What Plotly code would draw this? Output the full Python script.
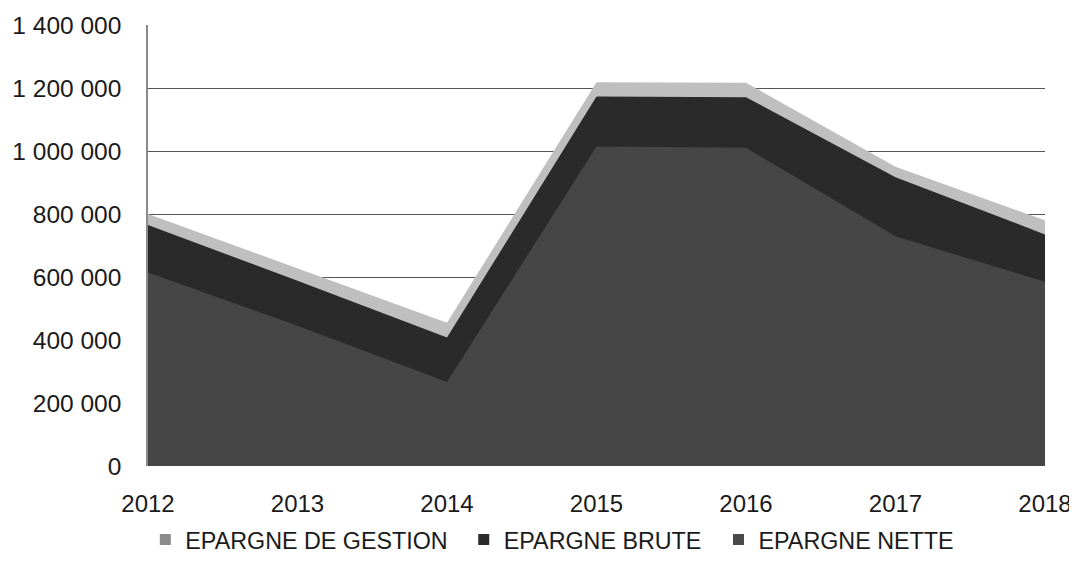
import plotly.graph_objects as go

years = [2012, 2013, 2014, 2015, 2016, 2017, 2018]
epargne_gestion = [800000, 627000, 455000, 1218000, 1217000, 950000, 780000]
epargne_brute = [765000, 588000, 408000, 1173000, 1171000, 917000, 735000]
epargne_nette = [614000, 445000, 267000, 1014000, 1010000, 729000, 585000]
y_ticks = [0, 200000, 400000, 600000, 800000, 1000000, 1200000, 1400000]

names = ["EPARGNE DE GESTION", "EPARGNE BRUTE", "EPARGNE NETTE"]
fill_colors = ["#bfbfbf", "#2a2a2a", "#464646"]
legend_colors = ["#8c8c8c", "#2b2b2b", "#4a4a4a"]
series = [epargne_gestion, epargne_brute, epargne_nette]
legend_ids = ["legend", "legend2", "legend3"]
legend_x = [-0.003, 0.352, 0.636]

FONT = "Liberation Sans"
TXT = "#1a1a1a"

fig = go.Figure()
for name, vals, col in zip(names, series, fill_colors):
    fig.add_trace(go.Scatter(
        x=years, y=vals, name=name, mode="lines",
        line=dict(width=0, color=col), fill="tozeroy", fillcolor=col,
        showlegend=False, hoverinfo="x+y+name",
    ))
for name, col, lid in zip(names, legend_colors, legend_ids):
    fig.add_trace(go.Scatter(
        x=[None], y=[None], name=name, mode="markers",
        marker=dict(symbol="square", size=11, color=col),
        showlegend=True, legend=lid,
    ))

legend_common = dict(
    orientation="h", xanchor="left", y=-0.165, yanchor="middle",
    font=dict(family=FONT, size=23.3, color=TXT),
    bgcolor="rgba(0,0,0,0)",
)
layout_legends = {}
for lid, lx in zip(legend_ids, legend_x):
    layout_legends[lid] = dict(legend_common, x=lx)

# page body has an 8px default margin, so the figure is offset by (8, 8)
fig.update_layout(
    width=1069, height=565,
    margin=dict(l=140, r=32, t=17, b=106),
    paper_bgcolor="white", plot_bgcolor="white",
    separators=", ",
    font=dict(family=FONT, size=24, color=TXT),
    showlegend=True,
    xaxis=dict(
        range=[2012, 2018], tickmode="array", tickvals=years,
        ticktext=[str(y) for y in years],
        showgrid=False, zeroline=False, showline=False,
        ticks="", ticklabelstandoff=21, automargin=False,
        tickfont=dict(family=FONT, size=24, color=TXT),
    ),
    yaxis=dict(
        range=[0, 1400000], tickmode="array", tickvals=y_ticks,
        tickformat=",d",
        showgrid=True, gridcolor="#555555", gridwidth=1.3,
        zeroline=False, showline=True, linecolor="#8a8a8a", linewidth=1.5,
        ticks="", ticklabelstandoff=20, automargin=False,
        tickfont=dict(family=FONT, size=24.5, color=TXT),
        layer="below traces",
    ),
    **layout_legends,
)

fig.write_html("out.html")
